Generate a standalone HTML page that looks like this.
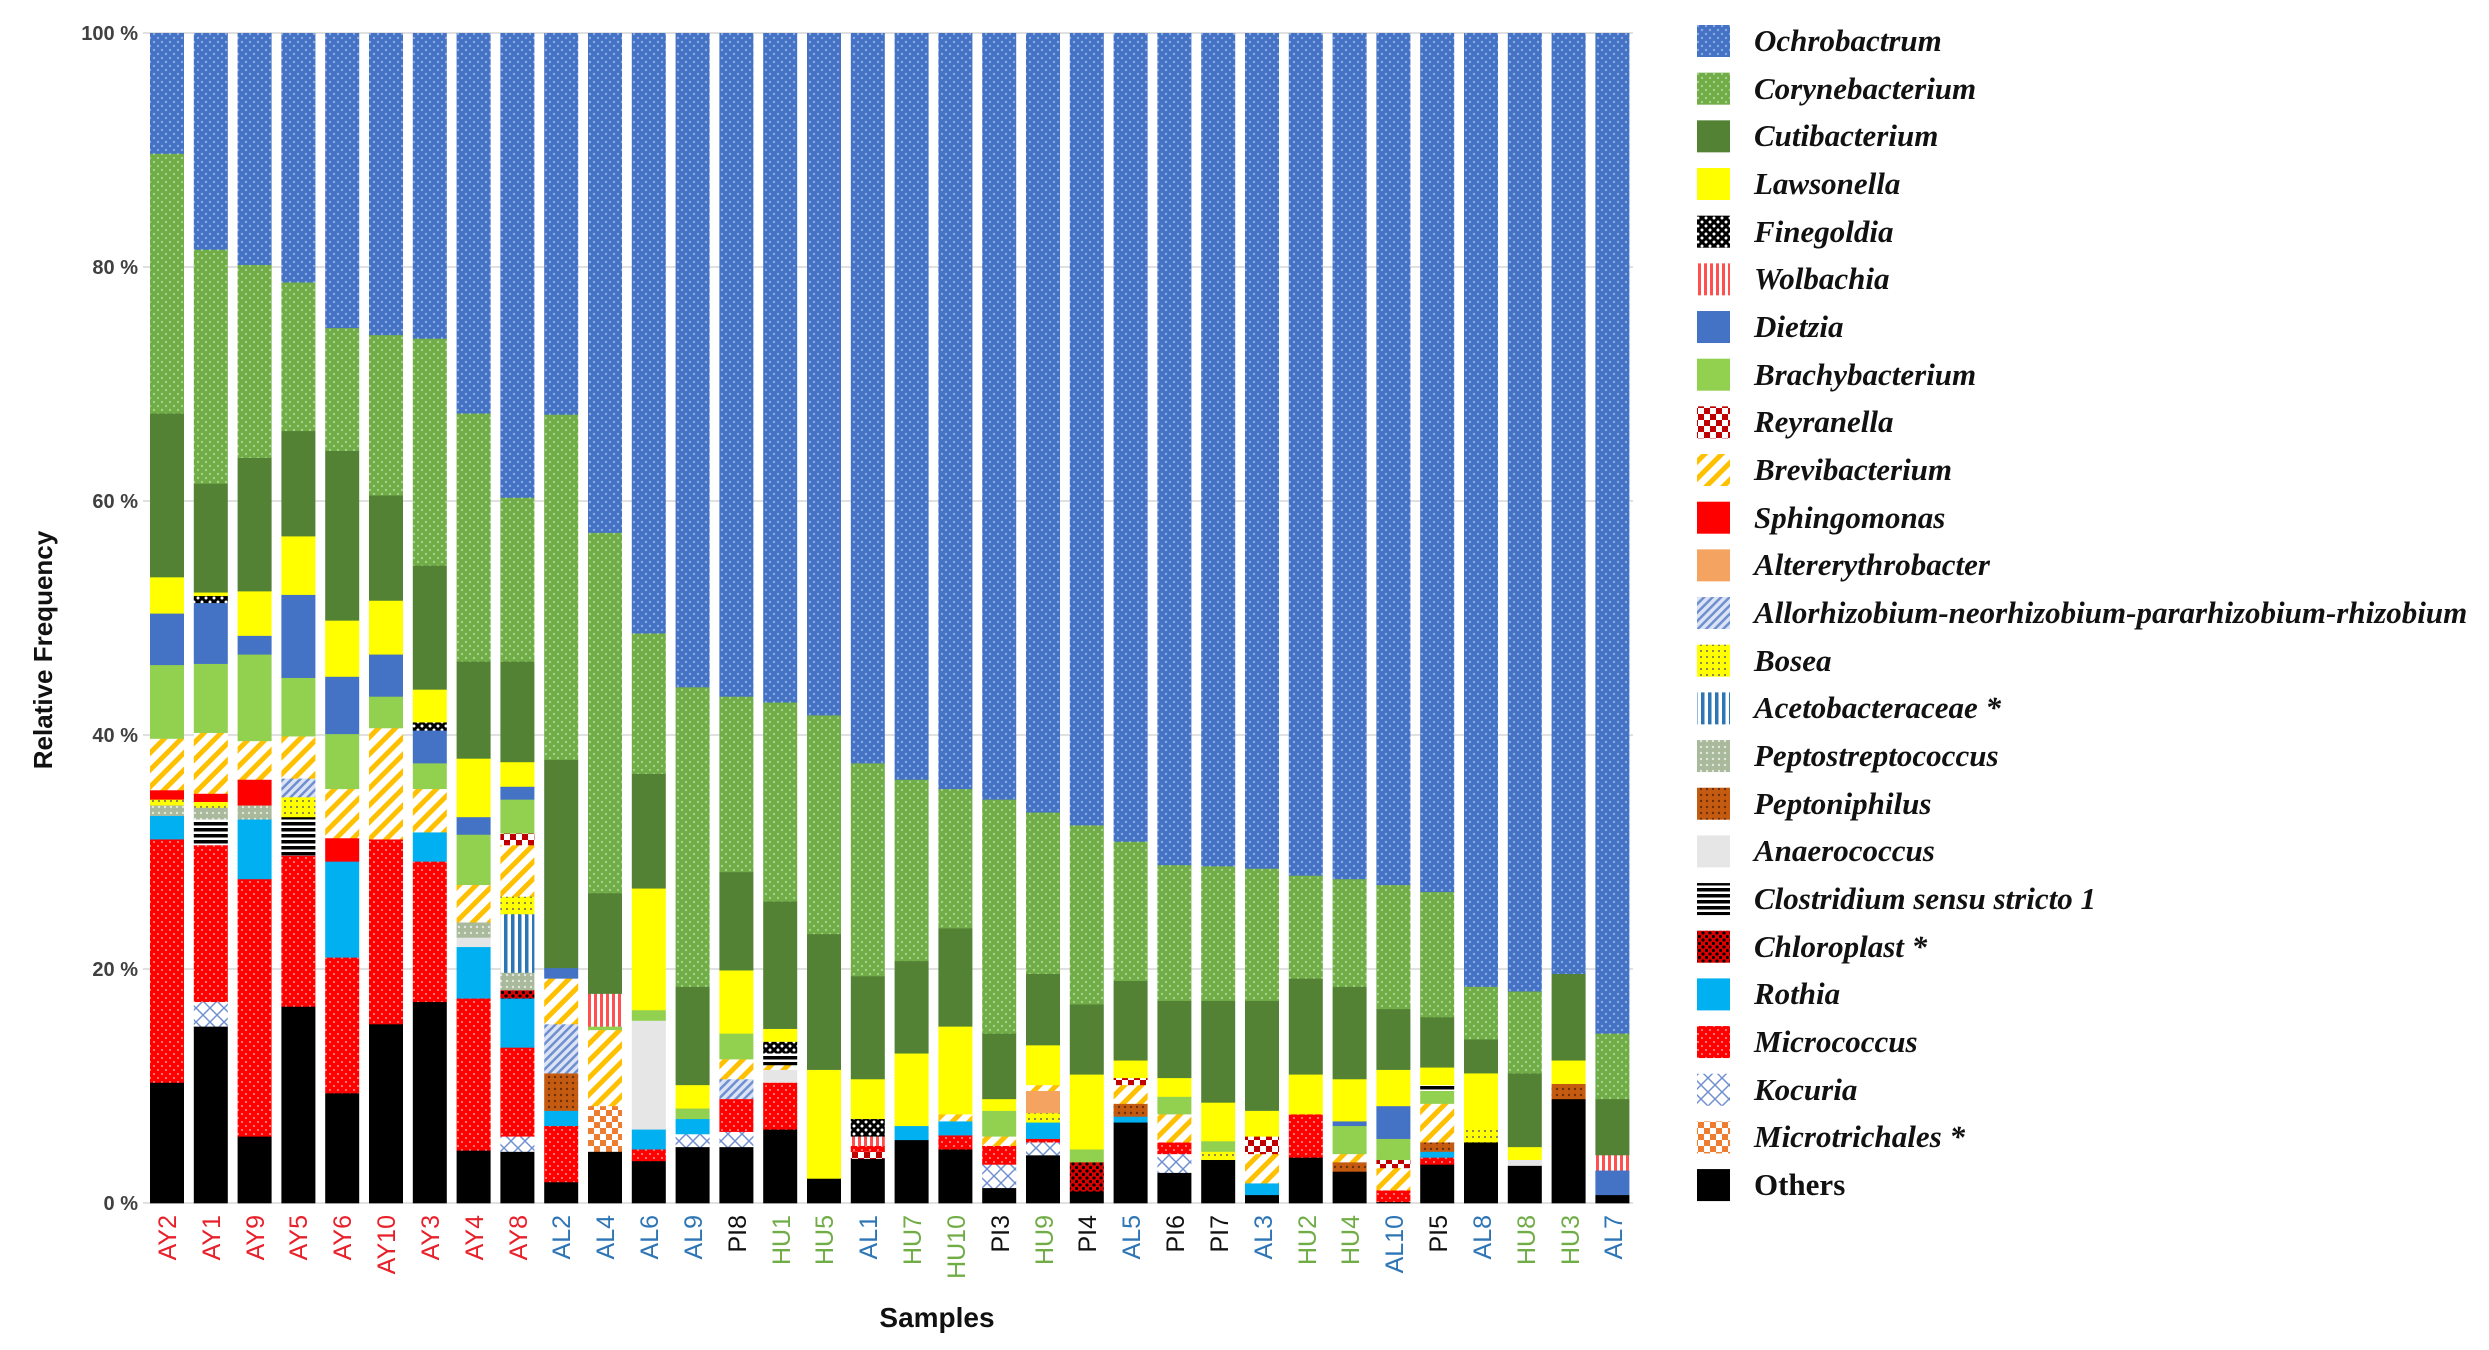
<!DOCTYPE html>
<html><head><meta charset="utf-8"><style>
html,body{margin:0;padding:0;background:#fff;}
svg{display:block;}
.yt{font-family:"Liberation Sans",sans-serif;font-weight:bold;font-size:20px;fill:#404040;}
.xl{font-family:"Liberation Sans",sans-serif;font-size:25px;}
.lg{font-family:"Liberation Serif",serif;font-weight:bold;font-style:italic;font-size:31px;fill:#111;}
</style></head><body>
<svg id="s" width="2489" height="1350" xmlns="http://www.w3.org/2000/svg">
<defs>
<pattern id="p_ochro" width="8" height="8" patternUnits="userSpaceOnUse"><rect width="8" height="8" fill="#4472c4"/><circle cx="2" cy="2" r="1.2" fill="#8fa9e0"/><circle cx="6" cy="6" r="1.2" fill="#8fa9e0"/></pattern>
<pattern id="p_cory" width="8" height="8" patternUnits="userSpaceOnUse"><rect width="8" height="8" fill="#70ad47"/><circle cx="2" cy="2" r="1.2" fill="#a9d08e"/><circle cx="6" cy="6" r="1.2" fill="#a9d08e"/></pattern>
<pattern id="p_micro" width="8" height="8" patternUnits="userSpaceOnUse"><rect width="8" height="8" fill="#ff0000"/><circle cx="2" cy="2" r="1.1" fill="#ff8080"/><circle cx="6" cy="6" r="1.1" fill="#ff8080"/></pattern>
<pattern id="p_fine" width="8" height="8" patternUnits="userSpaceOnUse"><rect width="8" height="8" fill="#000"/><circle cx="2" cy="2" r="1.5" fill="#fff"/><circle cx="6" cy="6" r="1.5" fill="#fff"/></pattern>
<pattern id="p_wol" width="6" height="6" patternUnits="userSpaceOnUse"><rect width="6" height="6" fill="#fff"/><rect width="3" height="6" fill="#ff5050"/></pattern>
<pattern id="p_rey" width="12" height="12" patternUnits="userSpaceOnUse"><rect width="12" height="12" fill="#fff"/><rect width="6" height="6" fill="#c00000"/><rect x="6" y="6" width="6" height="6" fill="#c00000"/></pattern>
<pattern id="p_brevi" width="12" height="12" patternUnits="userSpaceOnUse" patternTransform="rotate(45)"><rect width="12" height="12" fill="#fff"/><rect width="5" height="12" fill="#ffc000"/></pattern>
<pattern id="p_allo" width="6" height="6" patternUnits="userSpaceOnUse" patternTransform="rotate(45)"><rect width="6" height="6" fill="#dbe3f4"/><rect width="2.5" height="6" fill="#6f8fd0"/></pattern>
<pattern id="p_bosea" width="6" height="6" patternUnits="userSpaceOnUse"><rect width="6" height="6" fill="#ffff00"/><circle cx="3" cy="3" r="1" fill="#666"/></pattern>
<pattern id="p_aceto" width="7" height="7" patternUnits="userSpaceOnUse"><rect width="7" height="7" fill="#fff"/><rect width="3.5" height="7" fill="#2e75b6"/></pattern>
<pattern id="p_peptos" width="6" height="6" patternUnits="userSpaceOnUse"><rect width="6" height="6" fill="#a9b99c"/><circle cx="3" cy="3" r="1.2" fill="#e2e8dc"/></pattern>
<pattern id="p_pepton" width="6" height="6" patternUnits="userSpaceOnUse"><rect width="6" height="6" fill="#c55a11"/><circle cx="3" cy="3" r="1.2" fill="#6b2f08"/></pattern>
<pattern id="p_clos" width="6" height="6" patternUnits="userSpaceOnUse"><rect width="6" height="6" fill="#fff"/><rect width="6" height="3.5" fill="#000"/></pattern>
<pattern id="p_chloro" width="7" height="7" patternUnits="userSpaceOnUse"><rect width="7" height="7" fill="#e00000"/><circle cx="2" cy="2" r="1.6" fill="#000"/><circle cx="5.5" cy="5.5" r="1.6" fill="#000"/></pattern>
<pattern id="p_koc" width="14" height="14" patternUnits="userSpaceOnUse"><rect width="14" height="14" fill="#fff"/><path d="M0 0L7 7L14 0M0 14L7 7L14 14" stroke="#6f8fd0" stroke-width="1.5" fill="none"/></pattern>
<pattern id="p_mtr" width="12" height="12" patternUnits="userSpaceOnUse"><rect width="12" height="12" fill="#fff"/><rect width="6" height="6" fill="#ed7d31"/><rect x="6" y="6" width="6" height="6" fill="#ed7d31"/></pattern>
</defs>
<g id="grid"></g>
<g id="bars"></g>
<text class="yt" x="138" y="40" text-anchor="end">100 %</text>
<text class="yt" x="138" y="274" text-anchor="end">80 %</text>
<text class="yt" x="138" y="508" text-anchor="end">60 %</text>
<text class="yt" x="138" y="742" text-anchor="end">40 %</text>
<text class="yt" x="138" y="976" text-anchor="end">20 %</text>
<text class="yt" x="138" y="1210" text-anchor="end">0 %</text>
<text x="0" y="0" transform="translate(52,650) rotate(-90)" text-anchor="middle" style="font-family:'Liberation Sans',sans-serif;font-weight:bold;font-size:26px;fill:#111">Relative Frequency</text>
<text x="937" y="1327" text-anchor="middle" style="font-family:'Liberation Sans',sans-serif;font-weight:bold;font-size:28px;fill:#111">Samples</text>
<g id="xl">
<text class="xl" transform="translate(176,1215) rotate(-90)" text-anchor="end" fill="#e8202a">AY2</text>
<text class="xl" transform="translate(220,1215) rotate(-90)" text-anchor="end" fill="#e8202a">AY1</text>
<text class="xl" transform="translate(264,1215) rotate(-90)" text-anchor="end" fill="#e8202a">AY9</text>
<text class="xl" transform="translate(307,1215) rotate(-90)" text-anchor="end" fill="#e8202a">AY5</text>
<text class="xl" transform="translate(351,1215) rotate(-90)" text-anchor="end" fill="#e8202a">AY6</text>
<text class="xl" transform="translate(395,1215) rotate(-90)" text-anchor="end" fill="#e8202a">AY10</text>
<text class="xl" transform="translate(439,1215) rotate(-90)" text-anchor="end" fill="#e8202a">AY3</text>
<text class="xl" transform="translate(483,1215) rotate(-90)" text-anchor="end" fill="#e8202a">AY4</text>
<text class="xl" transform="translate(527,1215) rotate(-90)" text-anchor="end" fill="#e8202a">AY8</text>
<text class="xl" transform="translate(570,1215) rotate(-90)" text-anchor="end" fill="#2e75b6">AL2</text>
<text class="xl" transform="translate(614,1215) rotate(-90)" text-anchor="end" fill="#2e75b6">AL4</text>
<text class="xl" transform="translate(658,1215) rotate(-90)" text-anchor="end" fill="#2e75b6">AL6</text>
<text class="xl" transform="translate(702,1215) rotate(-90)" text-anchor="end" fill="#2e75b6">AL9</text>
<text class="xl" transform="translate(746,1215) rotate(-90)" text-anchor="end" fill="#111">PI8</text>
<text class="xl" transform="translate(790,1215) rotate(-90)" text-anchor="end" fill="#70ad47">HU1</text>
<text class="xl" transform="translate(833,1215) rotate(-90)" text-anchor="end" fill="#70ad47">HU5</text>
<text class="xl" transform="translate(877,1215) rotate(-90)" text-anchor="end" fill="#2e75b6">AL1</text>
<text class="xl" transform="translate(921,1215) rotate(-90)" text-anchor="end" fill="#70ad47">HU7</text>
<text class="xl" transform="translate(965,1215) rotate(-90)" text-anchor="end" fill="#70ad47">HU10</text>
<text class="xl" transform="translate(1009,1215) rotate(-90)" text-anchor="end" fill="#111">PI3</text>
<text class="xl" transform="translate(1053,1215) rotate(-90)" text-anchor="end" fill="#70ad47">HU9</text>
<text class="xl" transform="translate(1096,1215) rotate(-90)" text-anchor="end" fill="#111">PI4</text>
<text class="xl" transform="translate(1140,1215) rotate(-90)" text-anchor="end" fill="#2e75b6">AL5</text>
<text class="xl" transform="translate(1184,1215) rotate(-90)" text-anchor="end" fill="#111">PI6</text>
<text class="xl" transform="translate(1228,1215) rotate(-90)" text-anchor="end" fill="#111">PI7</text>
<text class="xl" transform="translate(1272,1215) rotate(-90)" text-anchor="end" fill="#2e75b6">AL3</text>
<text class="xl" transform="translate(1316,1215) rotate(-90)" text-anchor="end" fill="#70ad47">HU2</text>
<text class="xl" transform="translate(1359,1215) rotate(-90)" text-anchor="end" fill="#70ad47">HU4</text>
<text class="xl" transform="translate(1403,1215) rotate(-90)" text-anchor="end" fill="#2e75b6">AL10</text>
<text class="xl" transform="translate(1447,1215) rotate(-90)" text-anchor="end" fill="#111">PI5</text>
<text class="xl" transform="translate(1491,1215) rotate(-90)" text-anchor="end" fill="#2e75b6">AL8</text>
<text class="xl" transform="translate(1535,1215) rotate(-90)" text-anchor="end" fill="#70ad47">HU8</text>
<text class="xl" transform="translate(1579,1215) rotate(-90)" text-anchor="end" fill="#70ad47">HU3</text>
<text class="xl" transform="translate(1622,1215) rotate(-90)" text-anchor="end" fill="#2e75b6">AL7</text>
</g>
<g id="leg"></g>
<g>
<text class="lg" x="1754" y="51">Ochrobactrum</text>
<text class="lg" x="1754" y="99">Corynebacterium</text>
<text class="lg" x="1754" y="146">Cutibacterium</text>
<text class="lg" x="1754" y="194">Lawsonella</text>
<text class="lg" x="1754" y="242">Finegoldia</text>
<text class="lg" x="1754" y="289">Wolbachia</text>
<text class="lg" x="1754" y="337">Dietzia</text>
<text class="lg" x="1754" y="385">Brachybacterium</text>
<text class="lg" x="1754" y="432">Reyranella</text>
<text class="lg" x="1754" y="480">Brevibacterium</text>
<text class="lg" x="1754" y="528">Sphingomonas</text>
<text class="lg" x="1754" y="575">Altererythrobacter</text>
<text class="lg" x="1754" y="623">Allorhizobium-neorhizobium-pararhizobium-rhizobium</text>
<text class="lg" x="1754" y="671">Bosea</text>
<text class="lg" x="1754" y="718">Acetobacteraceae *</text>
<text class="lg" x="1754" y="766">Peptostreptococcus</text>
<text class="lg" x="1754" y="814">Peptoniphilus</text>
<text class="lg" x="1754" y="861">Anaerococcus</text>
<text class="lg" x="1754" y="909">Clostridium sensu stricto 1</text>
<text class="lg" x="1754" y="957">Chloroplast *</text>
<text class="lg" x="1754" y="1004">Rothia</text>
<text class="lg" x="1754" y="1052">Micrococcus</text>
<text class="lg" x="1754" y="1100">Kocuria</text>
<text class="lg" x="1754" y="1147">Microtrichales *</text>
<text class="lg" x="1754" y="1195" style="font-style:normal">Others</text>
</g>
</svg>
<script>
var F={ochro:"url(#p_ochro)",cory:"url(#p_cory)",cuti:"#548235",law:"#ffff00",fine:"url(#p_fine)",wol:"url(#p_wol)",diet:"#4472c4",brachy:"#92d050",rey:"url(#p_rey)",brevi:"url(#p_brevi)",sph:"#ff0000",alt:"#f4a460",allo:"url(#p_allo)",bosea:"url(#p_bosea)",aceto:"url(#p_aceto)",peptos:"url(#p_peptos)",pepton:"url(#p_pepton)",anae:"#e7e6e6",clos:"url(#p_clos)",chloro:"url(#p_chloro)",rot:"#00b0f0",micro:"url(#p_micro)",koc:"url(#p_koc)",mtr:"url(#p_mtr)",oth:"#000"};
var LK=["ochro","cory","cuti","law","fine","wol","diet","brachy","rey","brevi","sph","alt","allo","bosea","aceto","peptos","pepton","anae","clos","chloro","rot","micro","koc","mtr","oth"];
var D=[
[["oth",10.3],["micro",31.1],["rot",33.1],["peptos",34],["bosea",34.5],["sph",35.3],["brevi",39.7],["brachy",46],["diet",50.4],["law",53.5],["cuti",67.5],["cory",89.7]],
[["oth",15.1],["koc",17.2],["micro",30.6],["clos",32.8],["peptos",33.8],["bosea",34.3],["sph",35],["brevi",40.2],["brachy",46.1],["diet",51.3],["fine",51.9],["law",52.2],["cuti",61.5],["cory",81.5]],
[["oth",5.7],["micro",27.7],["rot",32.8],["peptos",34],["sph",36.2],["brevi",39.5],["brachy",46.9],["diet",48.5],["law",52.3],["cuti",63.7],["cory",80.2]],
[["oth",16.8],["micro",29.7],["clos",33],["bosea",34.7],["allo",36.3],["brevi",39.9],["brachy",44.9],["diet",52],["law",57],["cuti",66],["cory",78.7]],
[["oth",9.4],["micro",21],["rot",29.2],["sph",31.2],["brevi",35.4],["brachy",40.1],["diet",45],["law",49.8],["cuti",64.3],["cory",74.8]],
[["oth",15.3],["micro",31.1],["brevi",40.6],["brachy",43.3],["diet",46.9],["law",51.5],["cuti",60.5],["cory",74.2]],
[["oth",17.2],["micro",29.2],["rot",31.7],["brevi",35.4],["brachy",37.6],["diet",40.4],["fine",41.1],["law",43.9],["cuti",54.5],["cory",73.9]],
[["oth",4.5],["micro",17.5],["rot",21.9],["anae",22.7],["peptos",24],["brevi",27.2],["brachy",31.5],["diet",33],["law",38],["cuti",46.3],["cory",67.5]],
[["oth",4.4],["koc",5.7],["micro",13.3],["rot",17.5],["chloro",18.2],["peptos",19.7],["aceto",24.7],["bosea",26.2],["brevi",30.6],["rey",31.6],["brachy",34.5],["diet",35.6],["law",37.7],["cuti",46.3],["cory",60.3]],
[["oth",1.8],["micro",6.6],["rot",7.9],["pepton",11.1],["allo",15.3],["brevi",19.2],["diet",20.1],["cuti",37.9],["cory",67.4]],
[["oth",4.4],["mtr",8.3],["brevi",14.8],["brachy",15.1],["wol",17.9],["cuti",26.5],["cory",57.3]],
[["oth",3.6],["micro",4.6],["rot",6.3],["anae",15.6],["brachy",16.5],["law",26.9],["cuti",36.7],["cory",48.7]],
[["oth",4.8],["koc",5.9],["rot",7.2],["brachy",8.1],["law",10.1],["cuti",18.5],["cory",44.1]],
[["oth",4.8],["koc",6.1],["micro",8.9],["allo",10.6],["brevi",12.3],["brachy",14.5],["law",19.9],["cuti",28.3],["cory",43.3]],
[["oth",6.3],["micro",10.3],["anae",11.4],["brevi",11.8],["clos",12.8],["fine",13.8],["law",14.9],["cuti",25.8],["cory",42.8]],
[["oth",2.1],["law",11.4],["cuti",23],["cory",41.7]],
[["oth",3.8],["rey",4.4],["micro",4.9],["wol",5.7],["fine",7.2],["law",10.6],["cuti",19.4],["cory",37.6]],
[["oth",5.4],["rot",6.6],["law",12.8],["cuti",20.7],["cory",36.2]],
[["oth",4.6],["micro",5.8],["rot",7],["brevi",7.6],["law",15.1],["cuti",23.5],["cory",35.4]],
[["oth",1.3],["koc",3.3],["micro",4.9],["brevi",5.7],["brachy",7.9],["law",8.9],["cuti",14.5],["cory",34.5]],
[["oth",4.1],["koc",5.2],["micro",5.5],["rot",6.9],["bosea",7.7],["alt",9.6],["brevi",10.1],["law",13.5],["cuti",19.6],["cory",33.4]],
[["oth",1],["chloro",3.5],["brachy",4.6],["law",11],["cuti",17],["cory",32.3]],
[["oth",6.9],["rot",7.4],["pepton",8.5],["brevi",10.1],["rey",10.7],["law",12.2],["cuti",19],["cory",30.9]],
[["oth",2.6],["koc",4.2],["micro",5.2],["brevi",7.6],["brachy",9.1],["law",10.7],["cuti",17.3],["cory",28.9]],
[["oth",3.7],["bosea",4.4],["brachy",5.3],["law",8.6],["cuti",17.3],["cory",28.8]],
[["oth",0.7],["rot",1.7],["brevi",4.2],["rey",5.7],["law",7.9],["cuti",17.3],["cory",28.6]],
[["oth",3.9],["micro",7.6],["law",11],["cuti",19.2],["cory",28]],
[["oth",2.7],["pepton",3.5],["brevi",4.2],["brachy",6.6],["diet",7],["law",10.6],["cuti",18.5],["cory",27.7]],
[["oth",0.1],["micro",1.1],["brevi",3],["rey",3.7],["brachy",5.5],["diet",8.3],["law",11.4],["cuti",16.6],["cory",27.2]],
[["oth",3.3],["micro",3.9],["rot",4.4],["pepton",5.2],["brevi",8.5],["brachy",9.6],["clos",10.1],["law",11.6],["cuti",15.9],["cory",26.6]],
[["oth",5.2],["bosea",6.6],["law",11.1],["cuti",14],["cory",18.5]],
[["oth",3.2],["anae",3.7],["law",4.8],["cuti",11.1],["cory",18.1]],
[["oth",8.9],["pepton",10.2],["law",12.2],["cuti",19.6]],
[["oth",0.7],["diet",2.8],["wol",4.1],["cuti",8.9],["cory",14.5]]
];
var NS="http://www.w3.org/2000/svg";
function R(g,x,y,w,h,f,st){var r=document.createElementNS(NS,"rect");r.setAttribute("x",x);r.setAttribute("y",y);r.setAttribute("width",w);r.setAttribute("height",h);r.setAttribute("fill",f);if(st)r.setAttribute("stroke",st);g.appendChild(r);}
var Y0=1203,SC=11.7;
var gg=document.getElementById("grid");
for(var k=0;k<=5;k++){R(gg,143,Y0-k*20*SC-1,1490,2,"#e0e0e0");}
var gb=document.getElementById("bars");
D.forEach(function(b,i){var x=150+i*43.8,prev=0;
 b.concat([["ochro",100]]).forEach(function(s){var y1=Y0-s[1]*SC,y2=Y0-prev*SC;R(gb,x,y1,34,y2-y1+0.3,F[s[0]]);prev=s[1];});});
var gl=document.getElementById("leg");
LK.forEach(function(k,i){var c=41+i*47.67;R(gl,1697,c-16,33,32,F[k]);});
</script>
</body></html>
